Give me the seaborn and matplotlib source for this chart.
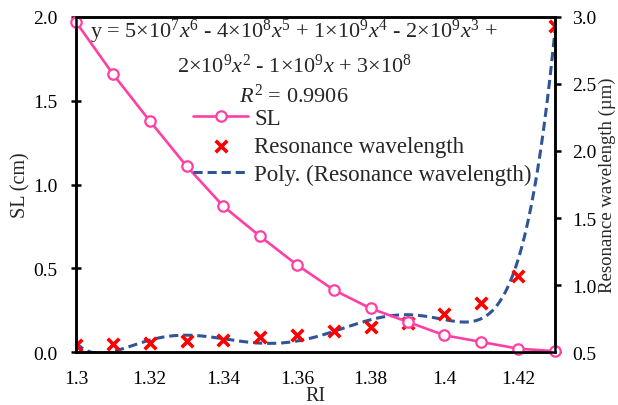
import numpy as np
import pandas as pd
import matplotlib
matplotlib.use("Agg")
import matplotlib.pyplot as plt
import seaborn as sns

# data
ri = [1.30, 1.31, 1.32, 1.33, 1.34, 1.35, 1.36, 1.37, 1.38, 1.39, 1.40, 1.41, 1.42, 1.43]
sl_cm = [1.97, 1.66, 1.38, 1.11, 0.87, 0.69, 0.52, 0.37, 0.26, 0.18, 0.10, 0.06, 0.02, 0.005]
res_um = [0.55, 0.557, 0.567, 0.58, 0.59, 0.61, 0.624, 0.654, 0.687, 0.72, 0.78, 0.866, 1.07, 2.93]

pink = "#FF3FA4"
blue = "#2F5597"

sns.set_theme(style="white")
plt.rcParams["font.family"] = ["Liberation Serif", "DejaVu Serif"]
plt.rcParams["mathtext.fontset"] = "custom"
plt.rcParams["mathtext.rm"] = "Liberation Serif"
plt.rcParams["mathtext.it"] = "Liberation Serif:italic"

df = pd.DataFrame({"RI": ri, "SL": sl_cm, "Res": res_um})

# 6th order polynomial trendline, as in the spreadsheet chart
coef = np.polyfit(df["RI"] - 1.3, df["Res"], 6)
xs = np.linspace(1.30, 1.43, 300)
trend = pd.DataFrame({"RI": xs, "Res": np.polyval(coef, xs - 1.3)})

fig = plt.figure(figsize=(6.18, 4.06), dpi=100)
ax = fig.add_axes([0.123, 0.1305, 0.775, 0.8252])
ax2 = ax.twinx()

sns.lineplot(data=trend, x="RI", y="Res", ax=ax2, color=blue, lw=2.2,
             linestyle=(0, (3, 1.6)), label="Poly. (Resonance wavelength)", legend=False)
sns.scatterplot(data=df, x="RI", y="Res", ax=ax2, marker="x", color="red", s=70,
                linewidth=2.6, label="Resonance wavelength", legend=False, zorder=5)
sns.lineplot(data=df, x="RI", y="SL", ax=ax, color=pink, lw=1.9, marker="o",
             markersize=7.5, markerfacecolor="white", markeredgecolor=pink,
             markeredgewidth=1.6, label="SL", legend=False, clip_on=False)

ax.set_zorder(ax2.get_zorder() + 1)
ax.patch.set_visible(False)

ax.set_xlim(1.30, 1.43)
ax.set_ylim(0, 2.0)
ax2.set_ylim(0.5, 3.0)
ax.set_xticks([1.30, 1.32, 1.34, 1.36, 1.38, 1.40, 1.42])
ax.set_xticklabels(["1.3", "1.32", "1.34", "1.36", "1.38", "1.4", "1.42"])
ax.set_yticks([0, 0.5, 1.0, 1.5, 2.0])
ax.set_yticklabels(["0.0", "0.5", "1.0", "1.5", "2.0"])
ax2.set_yticks([0.5, 1.0, 1.5, 2.0, 2.5, 3.0])
ax2.set_yticklabels(["0.5", "1.0", "1.5", "2.0", "2.5", "3.0"])

ax.set_xlabel("RI", fontsize=14.5, labelpad=-1)
ax.set_ylabel("SL (cm)", fontsize=14.5, labelpad=2)
ax2.set_ylabel("Resonance wavelength (µm)", fontsize=13.5, labelpad=1.5)

for a in (ax, ax2):
    for s in a.spines.values():
        s.set_color("black")
        s.set_linewidth(1.8)
ax.tick_params(axis="both", direction="inout", length=7.5, width=1.8, labelsize=14,
               colors="black", pad=9.5)
ax.tick_params(axis="y", which="both", right=False)
ax2.tick_params(axis="y", direction="out", length=4.5, width=1.8, labelsize=14,
                colors="black", pad=8)

eq = (r"y = 5×10$^{7}$$x^{6}$ - 4×10$^{8}$$x^{5}$ + 1×10$^{9}$$x^{4}$ - 2×10$^{9}$$x^{3}$ +"
      "\n"
      r"2×10$^{9}$$x^{2}$ - 1×10$^{9}$$x$ + 3×10$^{8}$"
      "\n"
      r"$R^{2}$ = 0.9906")
fig.text(0.476, 0.955, eq, ha="center", va="top", fontsize=16, linespacing=1.42)

h1, l1 = ax.get_legend_handles_labels()
h2, l2 = ax2.get_legend_handles_labels()
handles = h1 + h2[::-1]
labels = l1 + l2[::-1]
fig.legend(handles, labels, loc="upper left", bbox_to_anchor=(0.298, 0.755),
           frameon=False, fontsize=16.5, handlelength=2.4, handletextpad=0.26,
           labelspacing=0.3, borderaxespad=0)

fig.savefig("out.png", dpi=100)
